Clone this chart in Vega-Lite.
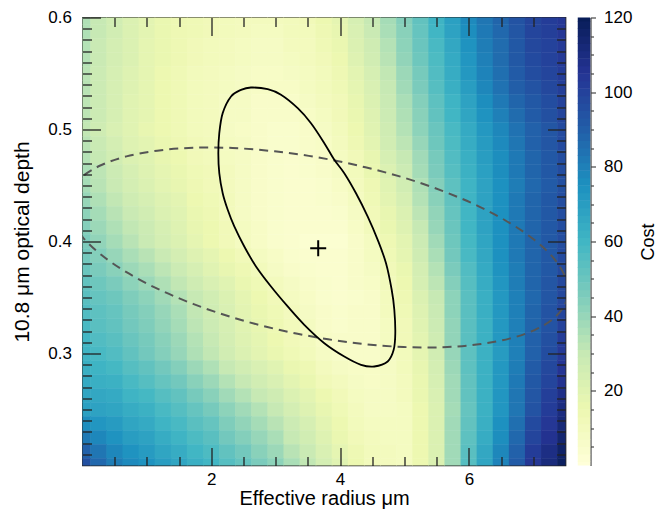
{
"$schema": "https://vega.github.io/schema/vega-lite/v6.json",
"background": "white",
"padding": {"left": 10.5, "top": 7.5, "right": 0, "bottom": 0},
"spacing": 10,
"config": {
  "font": "Liberation Sans",
  "view": {"stroke": null},
  "axis": {"labelFont": "Liberation Sans", "titleFont": "Liberation Sans", "labelColor": "#000", "titleColor": "#000", "titleFontWeight": "normal", "labelFontSize": 17, "titleFontSize": 20, "grid": false, "domain": false, "tickColor": "#222", "tickWidth": 1.3, "labelOverlap": false, "labelFlush": false, "labelBound": false}
},
"datasets": {
"grid": [
{"t":0.6,"r":0,"c":35},{"t":0.6,"r":0.25,"c":30},{"t":0.6,"r":0.5,"c":26},{"t":0.6,"r":0.75,"c":22},{"t":0.6,"r":1,"c":19},{"t":0.6,"r":1.25,"c":16},{"t":0.6,"r":1.5,"c":14},{"t":0.6,"r":1.75,"c":13},{"t":0.6,"r":2,"c":12},{"t":0.6,"r":2.25,"c":11},{"t":0.6,"r":2.5,"c":10},{"t":0.6,"r":2.75,"c":10},{"t":0.6,"r":3,"c":10},{"t":0.6,"r":3.25,"c":11},{"t":0.6,"r":3.5,"c":12},{"t":0.6,"r":3.75,"c":15},{"t":0.6,"r":4,"c":18},{"t":0.6,"r":4.25,"c":24},{"t":0.6,"r":4.5,"c":30},{"t":0.6,"r":4.75,"c":37},{"t":0.6,"r":5,"c":44},{"t":0.6,"r":5.25,"c":52},{"t":0.6,"r":5.5,"c":61},{"t":0.6,"r":5.75,"c":69},{"t":0.6,"r":6,"c":77},{"t":0.6,"r":6.25,"c":83},{"t":0.6,"r":6.5,"c":88},{"t":0.6,"r":6.75,"c":94},{"t":0.6,"r":7,"c":99},{"t":0.6,"r":7.25,"c":102},{"t":0.6,"r":7.5,"c":104},
{"t":0.5875,"r":0,"c":35},{"t":0.5875,"r":0.25,"c":30},{"t":0.5875,"r":0.5,"c":26},{"t":0.5875,"r":0.75,"c":22},{"t":0.5875,"r":1,"c":19},{"t":0.5875,"r":1.25,"c":16},{"t":0.5875,"r":1.5,"c":14},{"t":0.5875,"r":1.75,"c":13},{"t":0.5875,"r":2,"c":12},{"t":0.5875,"r":2.25,"c":11},{"t":0.5875,"r":2.5,"c":10},{"t":0.5875,"r":2.75,"c":9},{"t":0.5875,"r":3,"c":9},{"t":0.5875,"r":3.25,"c":11},{"t":0.5875,"r":3.5,"c":11},{"t":0.5875,"r":3.75,"c":14},{"t":0.5875,"r":4,"c":17},{"t":0.5875,"r":4.25,"c":23},{"t":0.5875,"r":4.5,"c":29},{"t":0.5875,"r":4.75,"c":36},{"t":0.5875,"r":5,"c":43},{"t":0.5875,"r":5.25,"c":51},{"t":0.5875,"r":5.5,"c":60},{"t":0.5875,"r":5.75,"c":68},{"t":0.5875,"r":6,"c":76},{"t":0.5875,"r":6.25,"c":82},{"t":0.5875,"r":6.5,"c":87},{"t":0.5875,"r":6.75,"c":93},{"t":0.5875,"r":7,"c":99},{"t":0.5875,"r":7.25,"c":101},{"t":0.5875,"r":7.5,"c":104},
{"t":0.575,"r":0,"c":34},{"t":0.575,"r":0.25,"c":29},{"t":0.575,"r":0.5,"c":25},{"t":0.575,"r":0.75,"c":22},{"t":0.575,"r":1,"c":18},{"t":0.575,"r":1.25,"c":16},{"t":0.575,"r":1.5,"c":14},{"t":0.575,"r":1.75,"c":12},{"t":0.575,"r":2,"c":11},{"t":0.575,"r":2.25,"c":10},{"t":0.575,"r":2.5,"c":9},{"t":0.575,"r":2.75,"c":8},{"t":0.575,"r":3,"c":8},{"t":0.575,"r":3.25,"c":10},{"t":0.575,"r":3.5,"c":10},{"t":0.575,"r":3.75,"c":13},{"t":0.575,"r":4,"c":16},{"t":0.575,"r":4.25,"c":22},{"t":0.575,"r":4.5,"c":27},{"t":0.575,"r":4.75,"c":34},{"t":0.575,"r":5,"c":42},{"t":0.575,"r":5.25,"c":50},{"t":0.575,"r":5.5,"c":58},{"t":0.575,"r":5.75,"c":66},{"t":0.575,"r":6,"c":74},{"t":0.575,"r":6.25,"c":81},{"t":0.575,"r":6.5,"c":86},{"t":0.575,"r":6.75,"c":92},{"t":0.575,"r":7,"c":98},{"t":0.575,"r":7.25,"c":100},{"t":0.575,"r":7.5,"c":103},
{"t":0.5625,"r":0,"c":34},{"t":0.5625,"r":0.25,"c":29},{"t":0.5625,"r":0.5,"c":25},{"t":0.5625,"r":0.75,"c":22},{"t":0.5625,"r":1,"c":18},{"t":0.5625,"r":1.25,"c":16},{"t":0.5625,"r":1.5,"c":14},{"t":0.5625,"r":1.75,"c":12},{"t":0.5625,"r":2,"c":11},{"t":0.5625,"r":2.25,"c":10},{"t":0.5625,"r":2.5,"c":9},{"t":0.5625,"r":2.75,"c":8},{"t":0.5625,"r":3,"c":8},{"t":0.5625,"r":3.25,"c":9},{"t":0.5625,"r":3.5,"c":10},{"t":0.5625,"r":3.75,"c":12},{"t":0.5625,"r":4,"c":15},{"t":0.5625,"r":4.25,"c":21},{"t":0.5625,"r":4.5,"c":26},{"t":0.5625,"r":4.75,"c":33},{"t":0.5625,"r":5,"c":41},{"t":0.5625,"r":5.25,"c":49},{"t":0.5625,"r":5.5,"c":57},{"t":0.5625,"r":5.75,"c":65},{"t":0.5625,"r":6,"c":73},{"t":0.5625,"r":6.25,"c":80},{"t":0.5625,"r":6.5,"c":86},{"t":0.5625,"r":6.75,"c":92},{"t":0.5625,"r":7,"c":97},{"t":0.5625,"r":7.25,"c":100},{"t":0.5625,"r":7.5,"c":103},
{"t":0.55,"r":0,"c":33},{"t":0.55,"r":0.25,"c":28},{"t":0.55,"r":0.5,"c":24},{"t":0.55,"r":0.75,"c":21},{"t":0.55,"r":1,"c":18},{"t":0.55,"r":1.25,"c":15},{"t":0.55,"r":1.5,"c":13},{"t":0.55,"r":1.75,"c":11},{"t":0.55,"r":2,"c":10},{"t":0.55,"r":2.25,"c":9},{"t":0.55,"r":2.5,"c":8},{"t":0.55,"r":2.75,"c":7},{"t":0.55,"r":3,"c":7},{"t":0.55,"r":3.25,"c":8},{"t":0.55,"r":3.5,"c":9},{"t":0.55,"r":3.75,"c":11},{"t":0.55,"r":4,"c":14},{"t":0.55,"r":4.25,"c":19},{"t":0.55,"r":4.5,"c":24},{"t":0.55,"r":4.75,"c":31},{"t":0.55,"r":5,"c":39},{"t":0.55,"r":5.25,"c":47},{"t":0.55,"r":5.5,"c":56},{"t":0.55,"r":5.75,"c":64},{"t":0.55,"r":6,"c":72},{"t":0.55,"r":6.25,"c":79},{"t":0.55,"r":6.5,"c":85},{"t":0.55,"r":6.75,"c":91},{"t":0.55,"r":7,"c":96},{"t":0.55,"r":7.25,"c":99},{"t":0.55,"r":7.5,"c":102},
{"t":0.5375,"r":0,"c":33},{"t":0.5375,"r":0.25,"c":28},{"t":0.5375,"r":0.5,"c":24},{"t":0.5375,"r":0.75,"c":21},{"t":0.5375,"r":1,"c":18},{"t":0.5375,"r":1.25,"c":15},{"t":0.5375,"r":1.5,"c":13},{"t":0.5375,"r":1.75,"c":11},{"t":0.5375,"r":2,"c":10},{"t":0.5375,"r":2.25,"c":9},{"t":0.5375,"r":2.5,"c":8},{"t":0.5375,"r":2.75,"c":7},{"t":0.5375,"r":3,"c":7},{"t":0.5375,"r":3.25,"c":7},{"t":0.5375,"r":3.5,"c":9},{"t":0.5375,"r":3.75,"c":11},{"t":0.5375,"r":4,"c":13},{"t":0.5375,"r":4.25,"c":18},{"t":0.5375,"r":4.5,"c":23},{"t":0.5375,"r":4.75,"c":30},{"t":0.5375,"r":5,"c":38},{"t":0.5375,"r":5.25,"c":46},{"t":0.5375,"r":5.5,"c":55},{"t":0.5375,"r":5.75,"c":63},{"t":0.5375,"r":6,"c":70},{"t":0.5375,"r":6.25,"c":78},{"t":0.5375,"r":6.5,"c":84},{"t":0.5375,"r":6.75,"c":90},{"t":0.5375,"r":7,"c":94},{"t":0.5375,"r":7.25,"c":98},{"t":0.5375,"r":7.5,"c":101},
{"t":0.525,"r":0,"c":32},{"t":0.525,"r":0.25,"c":28},{"t":0.525,"r":0.5,"c":24},{"t":0.525,"r":0.75,"c":20},{"t":0.525,"r":1,"c":18},{"t":0.525,"r":1.25,"c":15},{"t":0.525,"r":1.5,"c":13},{"t":0.525,"r":1.75,"c":11},{"t":0.525,"r":2,"c":10},{"t":0.525,"r":2.25,"c":8},{"t":0.525,"r":2.5,"c":8},{"t":0.525,"r":2.75,"c":6},{"t":0.525,"r":3,"c":6},{"t":0.525,"r":3.25,"c":6},{"t":0.525,"r":3.5,"c":8},{"t":0.525,"r":3.75,"c":10},{"t":0.525,"r":4,"c":12},{"t":0.525,"r":4.25,"c":17},{"t":0.525,"r":4.5,"c":22},{"t":0.525,"r":4.75,"c":29},{"t":0.525,"r":5,"c":36},{"t":0.525,"r":5.25,"c":44},{"t":0.525,"r":5.5,"c":53},{"t":0.525,"r":5.75,"c":61},{"t":0.525,"r":6,"c":68},{"t":0.525,"r":6.25,"c":76},{"t":0.525,"r":6.5,"c":82},{"t":0.525,"r":6.75,"c":88},{"t":0.525,"r":7,"c":92},{"t":0.525,"r":7.25,"c":96},{"t":0.525,"r":7.5,"c":100},
{"t":0.5125,"r":0,"c":32},{"t":0.5125,"r":0.25,"c":28},{"t":0.5125,"r":0.5,"c":24},{"t":0.5125,"r":0.75,"c":20},{"t":0.5125,"r":1,"c":18},{"t":0.5125,"r":1.25,"c":15},{"t":0.5125,"r":1.5,"c":13},{"t":0.5125,"r":1.75,"c":11},{"t":0.5125,"r":2,"c":10},{"t":0.5125,"r":2.25,"c":8},{"t":0.5125,"r":2.5,"c":8},{"t":0.5125,"r":2.75,"c":6},{"t":0.5125,"r":3,"c":6},{"t":0.5125,"r":3.25,"c":6},{"t":0.5125,"r":3.5,"c":7},{"t":0.5125,"r":3.75,"c":9},{"t":0.5125,"r":4,"c":12},{"t":0.5125,"r":4.25,"c":16},{"t":0.5125,"r":4.5,"c":21},{"t":0.5125,"r":4.75,"c":28},{"t":0.5125,"r":5,"c":35},{"t":0.5125,"r":5.25,"c":43},{"t":0.5125,"r":5.5,"c":52},{"t":0.5125,"r":5.75,"c":60},{"t":0.5125,"r":6,"c":67},{"t":0.5125,"r":6.25,"c":74},{"t":0.5125,"r":6.5,"c":80},{"t":0.5125,"r":6.75,"c":86},{"t":0.5125,"r":7,"c":91},{"t":0.5125,"r":7.25,"c":95},{"t":0.5125,"r":7.5,"c":99},
{"t":0.5,"r":0,"c":31},{"t":0.5,"r":0.25,"c":27},{"t":0.5,"r":0.5,"c":23},{"t":0.5,"r":0.75,"c":20},{"t":0.5,"r":1,"c":17},{"t":0.5,"r":1.25,"c":15},{"t":0.5,"r":1.5,"c":13},{"t":0.5,"r":1.75,"c":11},{"t":0.5,"r":2,"c":10},{"t":0.5,"r":2.25,"c":8},{"t":0.5,"r":2.5,"c":7},{"t":0.5,"r":2.75,"c":6},{"t":0.5,"r":3,"c":5},{"t":0.5,"r":3.25,"c":5},{"t":0.5,"r":3.5,"c":6},{"t":0.5,"r":3.75,"c":8},{"t":0.5,"r":4,"c":11},{"t":0.5,"r":4.25,"c":15},{"t":0.5,"r":4.5,"c":20},{"t":0.5,"r":4.75,"c":27},{"t":0.5,"r":5,"c":34},{"t":0.5,"r":5.25,"c":42},{"t":0.5,"r":5.5,"c":50},{"t":0.5,"r":5.75,"c":58},{"t":0.5,"r":6,"c":65},{"t":0.5,"r":6.25,"c":72},{"t":0.5,"r":6.5,"c":78},{"t":0.5,"r":6.75,"c":84},{"t":0.5,"r":7,"c":89},{"t":0.5,"r":7.25,"c":93},{"t":0.5,"r":7.5,"c":97},
{"t":0.4875,"r":0,"c":33},{"t":0.4875,"r":0.25,"c":29},{"t":0.4875,"r":0.5,"c":25},{"t":0.4875,"r":0.75,"c":21},{"t":0.4875,"r":1,"c":19},{"t":0.4875,"r":1.25,"c":16},{"t":0.4875,"r":1.5,"c":14},{"t":0.4875,"r":1.75,"c":12},{"t":0.4875,"r":2,"c":11},{"t":0.4875,"r":2.25,"c":9},{"t":0.4875,"r":2.5,"c":8},{"t":0.4875,"r":2.75,"c":6},{"t":0.4875,"r":3,"c":5},{"t":0.4875,"r":3.25,"c":5},{"t":0.4875,"r":3.5,"c":6},{"t":0.4875,"r":3.75,"c":7},{"t":0.4875,"r":4,"c":10},{"t":0.4875,"r":4.25,"c":14},{"t":0.4875,"r":4.5,"c":19},{"t":0.4875,"r":4.75,"c":26},{"t":0.4875,"r":5,"c":32},{"t":0.4875,"r":5.25,"c":40},{"t":0.4875,"r":5.5,"c":49},{"t":0.4875,"r":5.75,"c":57},{"t":0.4875,"r":6,"c":64},{"t":0.4875,"r":6.25,"c":71},{"t":0.4875,"r":6.5,"c":77},{"t":0.4875,"r":6.75,"c":83},{"t":0.4875,"r":7,"c":89},{"t":0.4875,"r":7.25,"c":93},{"t":0.4875,"r":7.5,"c":97},
{"t":0.475,"r":0,"c":34},{"t":0.475,"r":0.25,"c":30},{"t":0.475,"r":0.5,"c":26},{"t":0.475,"r":0.75,"c":22},{"t":0.475,"r":1,"c":20},{"t":0.475,"r":1.25,"c":17},{"t":0.475,"r":1.5,"c":15},{"t":0.475,"r":1.75,"c":12},{"t":0.475,"r":2,"c":11},{"t":0.475,"r":2.25,"c":9},{"t":0.475,"r":2.5,"c":8},{"t":0.475,"r":2.75,"c":6},{"t":0.475,"r":3,"c":5},{"t":0.475,"r":3.25,"c":4},{"t":0.475,"r":3.5,"c":5},{"t":0.475,"r":3.75,"c":6},{"t":0.475,"r":4,"c":9},{"t":0.475,"r":4.25,"c":12},{"t":0.475,"r":4.5,"c":17},{"t":0.475,"r":4.75,"c":24},{"t":0.475,"r":5,"c":30},{"t":0.475,"r":5.25,"c":38},{"t":0.475,"r":5.5,"c":47},{"t":0.475,"r":5.75,"c":56},{"t":0.475,"r":6,"c":63},{"t":0.475,"r":6.25,"c":70},{"t":0.475,"r":6.5,"c":76},{"t":0.475,"r":6.75,"c":82},{"t":0.475,"r":7,"c":88},{"t":0.475,"r":7.25,"c":92},{"t":0.475,"r":7.5,"c":96},
{"t":0.4625,"r":0,"c":36},{"t":0.4625,"r":0.25,"c":32},{"t":0.4625,"r":0.5,"c":28},{"t":0.4625,"r":0.75,"c":24},{"t":0.4625,"r":1,"c":21},{"t":0.4625,"r":1.25,"c":18},{"t":0.4625,"r":1.5,"c":16},{"t":0.4625,"r":1.75,"c":13},{"t":0.4625,"r":2,"c":12},{"t":0.4625,"r":2.25,"c":10},{"t":0.4625,"r":2.5,"c":8},{"t":0.4625,"r":2.75,"c":6},{"t":0.4625,"r":3,"c":5},{"t":0.4625,"r":3.25,"c":4},{"t":0.4625,"r":3.5,"c":5},{"t":0.4625,"r":3.75,"c":6},{"t":0.4625,"r":4,"c":8},{"t":0.4625,"r":4.25,"c":11},{"t":0.4625,"r":4.5,"c":16},{"t":0.4625,"r":4.75,"c":22},{"t":0.4625,"r":5,"c":28},{"t":0.4625,"r":5.25,"c":37},{"t":0.4625,"r":5.5,"c":46},{"t":0.4625,"r":5.75,"c":55},{"t":0.4625,"r":6,"c":62},{"t":0.4625,"r":6.25,"c":69},{"t":0.4625,"r":6.5,"c":76},{"t":0.4625,"r":6.75,"c":82},{"t":0.4625,"r":7,"c":88},{"t":0.4625,"r":7.25,"c":92},{"t":0.4625,"r":7.5,"c":96},
{"t":0.45,"r":0,"c":37},{"t":0.45,"r":0.25,"c":33},{"t":0.45,"r":0.5,"c":29},{"t":0.45,"r":0.75,"c":25},{"t":0.45,"r":1,"c":22},{"t":0.45,"r":1.25,"c":19},{"t":0.45,"r":1.5,"c":17},{"t":0.45,"r":1.75,"c":14},{"t":0.45,"r":2,"c":12},{"t":0.45,"r":2.25,"c":10},{"t":0.45,"r":2.5,"c":8},{"t":0.45,"r":2.75,"c":6},{"t":0.45,"r":3,"c":5},{"t":0.45,"r":3.25,"c":4},{"t":0.45,"r":3.5,"c":4},{"t":0.45,"r":3.75,"c":5},{"t":0.45,"r":4,"c":7},{"t":0.45,"r":4.25,"c":10},{"t":0.45,"r":4.5,"c":14},{"t":0.45,"r":4.75,"c":20},{"t":0.45,"r":5,"c":26},{"t":0.45,"r":5.25,"c":35},{"t":0.45,"r":5.5,"c":44},{"t":0.45,"r":5.75,"c":53},{"t":0.45,"r":6,"c":61},{"t":0.45,"r":6.25,"c":68},{"t":0.45,"r":6.5,"c":75},{"t":0.45,"r":6.75,"c":81},{"t":0.45,"r":7,"c":87},{"t":0.45,"r":7.25,"c":91},{"t":0.45,"r":7.5,"c":95},
{"t":0.4375,"r":0,"c":40},{"t":0.4375,"r":0.25,"c":35},{"t":0.4375,"r":0.5,"c":31},{"t":0.4375,"r":0.75,"c":27},{"t":0.4375,"r":1,"c":24},{"t":0.4375,"r":1.25,"c":21},{"t":0.4375,"r":1.5,"c":19},{"t":0.4375,"r":1.75,"c":15},{"t":0.4375,"r":2,"c":13},{"t":0.4375,"r":2.25,"c":11},{"t":0.4375,"r":2.5,"c":8},{"t":0.4375,"r":2.75,"c":6},{"t":0.4375,"r":3,"c":5},{"t":0.4375,"r":3.25,"c":4},{"t":0.4375,"r":3.5,"c":4},{"t":0.4375,"r":3.75,"c":5},{"t":0.4375,"r":4,"c":6},{"t":0.4375,"r":4.25,"c":9},{"t":0.4375,"r":4.5,"c":13},{"t":0.4375,"r":4.75,"c":19},{"t":0.4375,"r":5,"c":24},{"t":0.4375,"r":5.25,"c":34},{"t":0.4375,"r":5.5,"c":43},{"t":0.4375,"r":5.75,"c":52},{"t":0.4375,"r":6,"c":61},{"t":0.4375,"r":6.25,"c":68},{"t":0.4375,"r":6.5,"c":75},{"t":0.4375,"r":6.75,"c":82},{"t":0.4375,"r":7,"c":88},{"t":0.4375,"r":7.25,"c":92},{"t":0.4375,"r":7.5,"c":96},
{"t":0.425,"r":0,"c":42},{"t":0.425,"r":0.25,"c":37},{"t":0.425,"r":0.5,"c":33},{"t":0.425,"r":0.75,"c":29},{"t":0.425,"r":1,"c":26},{"t":0.425,"r":1.25,"c":22},{"t":0.425,"r":1.5,"c":20},{"t":0.425,"r":1.75,"c":16},{"t":0.425,"r":2,"c":14},{"t":0.425,"r":2.25,"c":11},{"t":0.425,"r":2.5,"c":8},{"t":0.425,"r":2.75,"c":6},{"t":0.425,"r":3,"c":5},{"t":0.425,"r":3.25,"c":4},{"t":0.425,"r":3.5,"c":4},{"t":0.425,"r":3.75,"c":4},{"t":0.425,"r":4,"c":5},{"t":0.425,"r":4.25,"c":8},{"t":0.425,"r":4.5,"c":12},{"t":0.425,"r":4.75,"c":17},{"t":0.425,"r":5,"c":22},{"t":0.425,"r":5.25,"c":32},{"t":0.425,"r":5.5,"c":41},{"t":0.425,"r":5.75,"c":51},{"t":0.425,"r":6,"c":60},{"t":0.425,"r":6.25,"c":68},{"t":0.425,"r":6.5,"c":75},{"t":0.425,"r":6.75,"c":82},{"t":0.425,"r":7,"c":88},{"t":0.425,"r":7.25,"c":92},{"t":0.425,"r":7.5,"c":96},
{"t":0.4125,"r":0,"c":44},{"t":0.4125,"r":0.25,"c":39},{"t":0.4125,"r":0.5,"c":35},{"t":0.4125,"r":0.75,"c":31},{"t":0.4125,"r":1,"c":28},{"t":0.4125,"r":1.25,"c":24},{"t":0.4125,"r":1.5,"c":21},{"t":0.4125,"r":1.75,"c":17},{"t":0.4125,"r":2,"c":15},{"t":0.4125,"r":2.25,"c":12},{"t":0.4125,"r":2.5,"c":9},{"t":0.4125,"r":2.75,"c":7},{"t":0.4125,"r":3,"c":5},{"t":0.4125,"r":3.25,"c":4},{"t":0.4125,"r":3.5,"c":4},{"t":0.4125,"r":3.75,"c":4},{"t":0.4125,"r":4,"c":4},{"t":0.4125,"r":4.25,"c":7},{"t":0.4125,"r":4.5,"c":11},{"t":0.4125,"r":4.75,"c":16},{"t":0.4125,"r":5,"c":21},{"t":0.4125,"r":5.25,"c":30},{"t":0.4125,"r":5.5,"c":40},{"t":0.4125,"r":5.75,"c":50},{"t":0.4125,"r":6,"c":60},{"t":0.4125,"r":6.25,"c":68},{"t":0.4125,"r":6.5,"c":75},{"t":0.4125,"r":6.75,"c":82},{"t":0.4125,"r":7,"c":88},{"t":0.4125,"r":7.25,"c":92},{"t":0.4125,"r":7.5,"c":96},
{"t":0.4,"r":0,"c":46},{"t":0.4,"r":0.25,"c":41},{"t":0.4,"r":0.5,"c":37},{"t":0.4,"r":0.75,"c":33},{"t":0.4,"r":1,"c":29},{"t":0.4,"r":1.25,"c":25},{"t":0.4,"r":1.5,"c":22},{"t":0.4,"r":1.75,"c":18},{"t":0.4,"r":2,"c":15},{"t":0.4,"r":2.25,"c":12},{"t":0.4,"r":2.5,"c":9},{"t":0.4,"r":2.75,"c":7},{"t":0.4,"r":3,"c":5},{"t":0.4,"r":3.25,"c":4},{"t":0.4,"r":3.5,"c":3},{"t":0.4,"r":3.75,"c":3},{"t":0.4,"r":4,"c":3},{"t":0.4,"r":4.25,"c":6},{"t":0.4,"r":4.5,"c":9},{"t":0.4,"r":4.75,"c":14},{"t":0.4,"r":5,"c":19},{"t":0.4,"r":5.25,"c":28},{"t":0.4,"r":5.5,"c":38},{"t":0.4,"r":5.75,"c":49},{"t":0.4,"r":6,"c":59},{"t":0.4,"r":6.25,"c":67},{"t":0.4,"r":6.5,"c":75},{"t":0.4,"r":6.75,"c":82},{"t":0.4,"r":7,"c":88},{"t":0.4,"r":7.25,"c":92},{"t":0.4,"r":7.5,"c":96},
{"t":0.3875,"r":0,"c":48},{"t":0.3875,"r":0.25,"c":44},{"t":0.3875,"r":0.5,"c":40},{"t":0.3875,"r":0.75,"c":36},{"t":0.3875,"r":1,"c":33},{"t":0.3875,"r":1.25,"c":29},{"t":0.3875,"r":1.5,"c":25},{"t":0.3875,"r":1.75,"c":21},{"t":0.3875,"r":2,"c":18},{"t":0.3875,"r":2.25,"c":15},{"t":0.3875,"r":2.5,"c":12},{"t":0.3875,"r":2.75,"c":9},{"t":0.3875,"r":3,"c":7},{"t":0.3875,"r":3.25,"c":5},{"t":0.3875,"r":3.5,"c":4},{"t":0.3875,"r":3.75,"c":4},{"t":0.3875,"r":4,"c":4},{"t":0.3875,"r":4.25,"c":6},{"t":0.3875,"r":4.5,"c":9},{"t":0.3875,"r":4.75,"c":13},{"t":0.3875,"r":5,"c":18},{"t":0.3875,"r":5.25,"c":27},{"t":0.3875,"r":5.5,"c":36},{"t":0.3875,"r":5.75,"c":48},{"t":0.3875,"r":6,"c":58},{"t":0.3875,"r":6.25,"c":66},{"t":0.3875,"r":6.5,"c":75},{"t":0.3875,"r":6.75,"c":82},{"t":0.3875,"r":7,"c":88},{"t":0.3875,"r":7.25,"c":92},{"t":0.3875,"r":7.5,"c":97},
{"t":0.375,"r":0,"c":50},{"t":0.375,"r":0.25,"c":46},{"t":0.375,"r":0.5,"c":43},{"t":0.375,"r":0.75,"c":39},{"t":0.375,"r":1,"c":36},{"t":0.375,"r":1.25,"c":32},{"t":0.375,"r":1.5,"c":28},{"t":0.375,"r":1.75,"c":24},{"t":0.375,"r":2,"c":20},{"t":0.375,"r":2.25,"c":17},{"t":0.375,"r":2.5,"c":14},{"t":0.375,"r":2.75,"c":11},{"t":0.375,"r":3,"c":8},{"t":0.375,"r":3.25,"c":6},{"t":0.375,"r":3.5,"c":5},{"t":0.375,"r":3.75,"c":4},{"t":0.375,"r":4,"c":4},{"t":0.375,"r":4.25,"c":6},{"t":0.375,"r":4.5,"c":8},{"t":0.375,"r":4.75,"c":12},{"t":0.375,"r":5,"c":16},{"t":0.375,"r":5.25,"c":25},{"t":0.375,"r":5.5,"c":34},{"t":0.375,"r":5.75,"c":46},{"t":0.375,"r":6,"c":56},{"t":0.375,"r":6.25,"c":65},{"t":0.375,"r":6.5,"c":74},{"t":0.375,"r":6.75,"c":81},{"t":0.375,"r":7,"c":88},{"t":0.375,"r":7.25,"c":92},{"t":0.375,"r":7.5,"c":97},
{"t":0.3625,"r":0,"c":52},{"t":0.3625,"r":0.25,"c":49},{"t":0.3625,"r":0.5,"c":46},{"t":0.3625,"r":0.75,"c":42},{"t":0.3625,"r":1,"c":39},{"t":0.3625,"r":1.25,"c":35},{"t":0.3625,"r":1.5,"c":31},{"t":0.3625,"r":1.75,"c":27},{"t":0.3625,"r":2,"c":23},{"t":0.3625,"r":2.25,"c":20},{"t":0.3625,"r":2.5,"c":16},{"t":0.3625,"r":2.75,"c":13},{"t":0.3625,"r":3,"c":10},{"t":0.3625,"r":3.25,"c":8},{"t":0.3625,"r":3.5,"c":6},{"t":0.3625,"r":3.75,"c":5},{"t":0.3625,"r":4,"c":4},{"t":0.3625,"r":4.25,"c":6},{"t":0.3625,"r":4.5,"c":7},{"t":0.3625,"r":4.75,"c":11},{"t":0.3625,"r":5,"c":15},{"t":0.3625,"r":5.25,"c":24},{"t":0.3625,"r":5.5,"c":32},{"t":0.3625,"r":5.75,"c":44},{"t":0.3625,"r":6,"c":55},{"t":0.3625,"r":6.25,"c":64},{"t":0.3625,"r":6.5,"c":73},{"t":0.3625,"r":6.75,"c":81},{"t":0.3625,"r":7,"c":88},{"t":0.3625,"r":7.25,"c":93},{"t":0.3625,"r":7.5,"c":98},
{"t":0.35,"r":0,"c":54},{"t":0.35,"r":0.25,"c":51},{"t":0.35,"r":0.5,"c":49},{"t":0.35,"r":0.75,"c":45},{"t":0.35,"r":1,"c":42},{"t":0.35,"r":1.25,"c":38},{"t":0.35,"r":1.5,"c":34},{"t":0.35,"r":1.75,"c":30},{"t":0.35,"r":2,"c":26},{"t":0.35,"r":2.25,"c":22},{"t":0.35,"r":2.5,"c":18},{"t":0.35,"r":2.75,"c":15},{"t":0.35,"r":3,"c":12},{"t":0.35,"r":3.25,"c":9},{"t":0.35,"r":3.5,"c":7},{"t":0.35,"r":3.75,"c":5},{"t":0.35,"r":4,"c":4},{"t":0.35,"r":4.25,"c":5},{"t":0.35,"r":4.5,"c":6},{"t":0.35,"r":4.75,"c":10},{"t":0.35,"r":5,"c":14},{"t":0.35,"r":5.25,"c":22},{"t":0.35,"r":5.5,"c":30},{"t":0.35,"r":5.75,"c":42},{"t":0.35,"r":6,"c":54},{"t":0.35,"r":6.25,"c":63},{"t":0.35,"r":6.5,"c":72},{"t":0.35,"r":6.75,"c":80},{"t":0.35,"r":7,"c":87},{"t":0.35,"r":7.25,"c":93},{"t":0.35,"r":7.5,"c":98},
{"t":0.3375,"r":0,"c":56},{"t":0.3375,"r":0.25,"c":53},{"t":0.3375,"r":0.5,"c":51},{"t":0.3375,"r":0.75,"c":47},{"t":0.3375,"r":1,"c":44},{"t":0.3375,"r":1.25,"c":40},{"t":0.3375,"r":1.5,"c":36},{"t":0.3375,"r":1.75,"c":31},{"t":0.3375,"r":2,"c":27},{"t":0.3375,"r":2.25,"c":23},{"t":0.3375,"r":2.5,"c":19},{"t":0.3375,"r":2.75,"c":16},{"t":0.3375,"r":3,"c":13},{"t":0.3375,"r":3.25,"c":10},{"t":0.3375,"r":3.5,"c":8},{"t":0.3375,"r":3.75,"c":6},{"t":0.3375,"r":4,"c":5},{"t":0.3375,"r":4.25,"c":6},{"t":0.3375,"r":4.5,"c":6},{"t":0.3375,"r":4.75,"c":10},{"t":0.3375,"r":5,"c":13},{"t":0.3375,"r":5.25,"c":21},{"t":0.3375,"r":5.5,"c":29},{"t":0.3375,"r":5.75,"c":42},{"t":0.3375,"r":6,"c":54},{"t":0.3375,"r":6.25,"c":63},{"t":0.3375,"r":6.5,"c":72},{"t":0.3375,"r":6.75,"c":80},{"t":0.3375,"r":7,"c":88},{"t":0.3375,"r":7.25,"c":94},{"t":0.3375,"r":7.5,"c":99},
{"t":0.325,"r":0,"c":58},{"t":0.325,"r":0.25,"c":54},{"t":0.325,"r":0.5,"c":52},{"t":0.325,"r":0.75,"c":48},{"t":0.325,"r":1,"c":45},{"t":0.325,"r":1.25,"c":41},{"t":0.325,"r":1.5,"c":37},{"t":0.325,"r":1.75,"c":32},{"t":0.325,"r":2,"c":28},{"t":0.325,"r":2.25,"c":24},{"t":0.325,"r":2.5,"c":20},{"t":0.325,"r":2.75,"c":17},{"t":0.325,"r":3,"c":14},{"t":0.325,"r":3.25,"c":11},{"t":0.325,"r":3.5,"c":9},{"t":0.325,"r":3.75,"c":6},{"t":0.325,"r":4,"c":5},{"t":0.325,"r":4.25,"c":6},{"t":0.325,"r":4.5,"c":6},{"t":0.325,"r":4.75,"c":9},{"t":0.325,"r":5,"c":12},{"t":0.325,"r":5.25,"c":20},{"t":0.325,"r":5.5,"c":28},{"t":0.325,"r":5.75,"c":41},{"t":0.325,"r":6,"c":54},{"t":0.325,"r":6.25,"c":62},{"t":0.325,"r":6.5,"c":72},{"t":0.325,"r":6.75,"c":80},{"t":0.325,"r":7,"c":88},{"t":0.325,"r":7.25,"c":94},{"t":0.325,"r":7.5,"c":100},
{"t":0.3125,"r":0,"c":60},{"t":0.3125,"r":0.25,"c":56},{"t":0.3125,"r":0.5,"c":54},{"t":0.3125,"r":0.75,"c":50},{"t":0.3125,"r":1,"c":47},{"t":0.3125,"r":1.25,"c":43},{"t":0.3125,"r":1.5,"c":39},{"t":0.3125,"r":1.75,"c":34},{"t":0.3125,"r":2,"c":30},{"t":0.3125,"r":2.25,"c":25},{"t":0.3125,"r":2.5,"c":21},{"t":0.3125,"r":2.75,"c":18},{"t":0.3125,"r":3,"c":15},{"t":0.3125,"r":3.25,"c":12},{"t":0.3125,"r":3.5,"c":10},{"t":0.3125,"r":3.75,"c":7},{"t":0.3125,"r":4,"c":6},{"t":0.3125,"r":4.25,"c":6},{"t":0.3125,"r":4.5,"c":6},{"t":0.3125,"r":4.75,"c":9},{"t":0.3125,"r":5,"c":12},{"t":0.3125,"r":5.25,"c":19},{"t":0.3125,"r":5.5,"c":27},{"t":0.3125,"r":5.75,"c":41},{"t":0.3125,"r":6,"c":54},{"t":0.3125,"r":6.25,"c":62},{"t":0.3125,"r":6.5,"c":72},{"t":0.3125,"r":6.75,"c":80},{"t":0.3125,"r":7,"c":89},{"t":0.3125,"r":7.25,"c":95},{"t":0.3125,"r":7.5,"c":102},
{"t":0.3,"r":0,"c":61},{"t":0.3,"r":0.25,"c":58},{"t":0.3,"r":0.5,"c":56},{"t":0.3,"r":0.75,"c":52},{"t":0.3,"r":1,"c":48},{"t":0.3,"r":1.25,"c":44},{"t":0.3,"r":1.5,"c":40},{"t":0.3,"r":1.75,"c":35},{"t":0.3,"r":2,"c":31},{"t":0.3,"r":2.25,"c":26},{"t":0.3,"r":2.5,"c":22},{"t":0.3,"r":2.75,"c":19},{"t":0.3,"r":3,"c":16},{"t":0.3,"r":3.25,"c":13},{"t":0.3,"r":3.5,"c":11},{"t":0.3,"r":3.75,"c":8},{"t":0.3,"r":4,"c":6},{"t":0.3,"r":4.25,"c":6},{"t":0.3,"r":4.5,"c":6},{"t":0.3,"r":4.75,"c":8},{"t":0.3,"r":5,"c":11},{"t":0.3,"r":5.25,"c":18},{"t":0.3,"r":5.5,"c":26},{"t":0.3,"r":5.75,"c":40},{"t":0.3,"r":6,"c":53},{"t":0.3,"r":6.25,"c":62},{"t":0.3,"r":6.5,"c":71},{"t":0.3,"r":6.75,"c":80},{"t":0.3,"r":7,"c":89},{"t":0.3,"r":7.25,"c":96},{"t":0.3,"r":7.5,"c":103},
{"t":0.2875,"r":0,"c":63},{"t":0.2875,"r":0.25,"c":61},{"t":0.2875,"r":0.5,"c":59},{"t":0.2875,"r":0.75,"c":55},{"t":0.2875,"r":1,"c":52},{"t":0.2875,"r":1.25,"c":48},{"t":0.2875,"r":1.5,"c":44},{"t":0.2875,"r":1.75,"c":39},{"t":0.2875,"r":2,"c":35},{"t":0.2875,"r":2.25,"c":30},{"t":0.2875,"r":2.5,"c":26},{"t":0.2875,"r":2.75,"c":23},{"t":0.2875,"r":3,"c":20},{"t":0.2875,"r":3.25,"c":16},{"t":0.2875,"r":3.5,"c":14},{"t":0.2875,"r":3.75,"c":10},{"t":0.2875,"r":4,"c":8},{"t":0.2875,"r":4.25,"c":7},{"t":0.2875,"r":4.5,"c":7},{"t":0.2875,"r":4.75,"c":8},{"t":0.2875,"r":5,"c":11},{"t":0.2875,"r":5.25,"c":17},{"t":0.2875,"r":5.5,"c":25},{"t":0.2875,"r":5.75,"c":39},{"t":0.2875,"r":6,"c":53},{"t":0.2875,"r":6.25,"c":62},{"t":0.2875,"r":6.5,"c":72},{"t":0.2875,"r":6.75,"c":81},{"t":0.2875,"r":7,"c":91},{"t":0.2875,"r":7.25,"c":98},{"t":0.2875,"r":7.5,"c":105},
{"t":0.275,"r":0,"c":65},{"t":0.275,"r":0.25,"c":63},{"t":0.275,"r":0.5,"c":62},{"t":0.275,"r":0.75,"c":58},{"t":0.275,"r":1,"c":55},{"t":0.275,"r":1.25,"c":51},{"t":0.275,"r":1.5,"c":48},{"t":0.275,"r":1.75,"c":43},{"t":0.275,"r":2,"c":39},{"t":0.275,"r":2.25,"c":34},{"t":0.275,"r":2.5,"c":30},{"t":0.275,"r":2.75,"c":26},{"t":0.275,"r":3,"c":23},{"t":0.275,"r":3.25,"c":19},{"t":0.275,"r":3.5,"c":16},{"t":0.275,"r":3.75,"c":12},{"t":0.275,"r":4,"c":10},{"t":0.275,"r":4.25,"c":8},{"t":0.275,"r":4.5,"c":7},{"t":0.275,"r":4.75,"c":8},{"t":0.275,"r":5,"c":10},{"t":0.275,"r":5.25,"c":16},{"t":0.275,"r":5.5,"c":24},{"t":0.275,"r":5.75,"c":38},{"t":0.275,"r":6,"c":52},{"t":0.275,"r":6.25,"c":62},{"t":0.275,"r":6.5,"c":72},{"t":0.275,"r":6.75,"c":82},{"t":0.275,"r":7,"c":92},{"t":0.275,"r":7.25,"c":99},{"t":0.275,"r":7.5,"c":106},
{"t":0.2625,"r":0,"c":67},{"t":0.2625,"r":0.25,"c":66},{"t":0.2625,"r":0.5,"c":65},{"t":0.2625,"r":0.75,"c":61},{"t":0.2625,"r":1,"c":59},{"t":0.2625,"r":1.25,"c":55},{"t":0.2625,"r":1.5,"c":52},{"t":0.2625,"r":1.75,"c":47},{"t":0.2625,"r":2,"c":43},{"t":0.2625,"r":2.25,"c":38},{"t":0.2625,"r":2.5,"c":34},{"t":0.2625,"r":2.75,"c":30},{"t":0.2625,"r":3,"c":27},{"t":0.2625,"r":3.25,"c":22},{"t":0.2625,"r":3.5,"c":19},{"t":0.2625,"r":3.75,"c":15},{"t":0.2625,"r":4,"c":12},{"t":0.2625,"r":4.25,"c":9},{"t":0.2625,"r":4.5,"c":8},{"t":0.2625,"r":4.75,"c":8},{"t":0.2625,"r":5,"c":10},{"t":0.2625,"r":5.25,"c":16},{"t":0.2625,"r":5.5,"c":23},{"t":0.2625,"r":5.75,"c":38},{"t":0.2625,"r":6,"c":52},{"t":0.2625,"r":6.25,"c":62},{"t":0.2625,"r":6.5,"c":73},{"t":0.2625,"r":6.75,"c":83},{"t":0.2625,"r":7,"c":93},{"t":0.2625,"r":7.25,"c":101},{"t":0.2625,"r":7.5,"c":108},
{"t":0.25,"r":0,"c":69},{"t":0.25,"r":0.25,"c":68},{"t":0.25,"r":0.5,"c":67},{"t":0.25,"r":0.75,"c":64},{"t":0.25,"r":1,"c":62},{"t":0.25,"r":1.25,"c":58},{"t":0.25,"r":1.5,"c":55},{"t":0.25,"r":1.75,"c":51},{"t":0.25,"r":2,"c":47},{"t":0.25,"r":2.25,"c":42},{"t":0.25,"r":2.5,"c":38},{"t":0.25,"r":2.75,"c":34},{"t":0.25,"r":3,"c":30},{"t":0.25,"r":3.25,"c":25},{"t":0.25,"r":3.5,"c":21},{"t":0.25,"r":3.75,"c":17},{"t":0.25,"r":4,"c":13},{"t":0.25,"r":4.25,"c":10},{"t":0.25,"r":4.5,"c":8},{"t":0.25,"r":4.75,"c":8},{"t":0.25,"r":5,"c":9},{"t":0.25,"r":5.25,"c":15},{"t":0.25,"r":5.5,"c":22},{"t":0.25,"r":5.75,"c":37},{"t":0.25,"r":6,"c":51},{"t":0.25,"r":6.25,"c":62},{"t":0.25,"r":6.5,"c":73},{"t":0.25,"r":6.75,"c":83},{"t":0.25,"r":7,"c":94},{"t":0.25,"r":7.25,"c":102},{"t":0.25,"r":7.5,"c":110},
{"t":0.2375,"r":0,"c":76},{"t":0.2375,"r":0.25,"c":73},{"t":0.2375,"r":0.5,"c":71},{"t":0.2375,"r":0.75,"c":67},{"t":0.2375,"r":1,"c":65},{"t":0.2375,"r":1.25,"c":61},{"t":0.2375,"r":1.5,"c":58},{"t":0.2375,"r":1.75,"c":54},{"t":0.2375,"r":2,"c":51},{"t":0.2375,"r":2.25,"c":45},{"t":0.2375,"r":2.5,"c":41},{"t":0.2375,"r":2.75,"c":37},{"t":0.2375,"r":3,"c":33},{"t":0.2375,"r":3.25,"c":28},{"t":0.2375,"r":3.5,"c":24},{"t":0.2375,"r":3.75,"c":19},{"t":0.2375,"r":4,"c":15},{"t":0.2375,"r":4.25,"c":11},{"t":0.2375,"r":4.5,"c":9},{"t":0.2375,"r":4.75,"c":9},{"t":0.2375,"r":5,"c":9},{"t":0.2375,"r":5.25,"c":15},{"t":0.2375,"r":5.5,"c":22},{"t":0.2375,"r":5.75,"c":38},{"t":0.2375,"r":6,"c":52},{"t":0.2375,"r":6.25,"c":63},{"t":0.2375,"r":6.5,"c":75},{"t":0.2375,"r":6.75,"c":85},{"t":0.2375,"r":7,"c":97},{"t":0.2375,"r":7.25,"c":104},{"t":0.2375,"r":7.5,"c":112},
{"t":0.225,"r":0,"c":82},{"t":0.225,"r":0.25,"c":78},{"t":0.225,"r":0.5,"c":74},{"t":0.225,"r":0.75,"c":70},{"t":0.225,"r":1,"c":68},{"t":0.225,"r":1.25,"c":64},{"t":0.225,"r":1.5,"c":61},{"t":0.225,"r":1.75,"c":57},{"t":0.225,"r":2,"c":54},{"t":0.225,"r":2.25,"c":48},{"t":0.225,"r":2.5,"c":44},{"t":0.225,"r":2.75,"c":40},{"t":0.225,"r":3,"c":36},{"t":0.225,"r":3.25,"c":30},{"t":0.225,"r":3.5,"c":26},{"t":0.225,"r":3.75,"c":21},{"t":0.225,"r":4,"c":16},{"t":0.225,"r":4.25,"c":12},{"t":0.225,"r":4.5,"c":10},{"t":0.225,"r":4.75,"c":9},{"t":0.225,"r":5,"c":9},{"t":0.225,"r":5.25,"c":15},{"t":0.225,"r":5.5,"c":22},{"t":0.225,"r":5.75,"c":38},{"t":0.225,"r":6,"c":53},{"t":0.225,"r":6.25,"c":64},{"t":0.225,"r":6.5,"c":76},{"t":0.225,"r":6.75,"c":87},{"t":0.225,"r":7,"c":99},{"t":0.225,"r":7.25,"c":106},{"t":0.225,"r":7.5,"c":114},
{"t":0.2125,"r":0,"c":89},{"t":0.2125,"r":0.25,"c":83},{"t":0.2125,"r":0.5,"c":78},{"t":0.2125,"r":0.75,"c":74},{"t":0.2125,"r":1,"c":71},{"t":0.2125,"r":1.25,"c":67},{"t":0.2125,"r":1.5,"c":64},{"t":0.2125,"r":1.75,"c":60},{"t":0.2125,"r":2,"c":57},{"t":0.2125,"r":2.25,"c":52},{"t":0.2125,"r":2.5,"c":48},{"t":0.2125,"r":2.75,"c":43},{"t":0.2125,"r":3,"c":39},{"t":0.2125,"r":3.25,"c":33},{"t":0.2125,"r":3.5,"c":29},{"t":0.2125,"r":3.75,"c":23},{"t":0.2125,"r":4,"c":18},{"t":0.2125,"r":4.25,"c":14},{"t":0.2125,"r":4.5,"c":11},{"t":0.2125,"r":4.75,"c":10},{"t":0.2125,"r":5,"c":9},{"t":0.2125,"r":5.25,"c":15},{"t":0.2125,"r":5.5,"c":22},{"t":0.2125,"r":5.75,"c":38},{"t":0.2125,"r":6,"c":54},{"t":0.2125,"r":6.25,"c":66},{"t":0.2125,"r":6.5,"c":78},{"t":0.2125,"r":6.75,"c":89},{"t":0.2125,"r":7,"c":102},{"t":0.2125,"r":7.25,"c":109},{"t":0.2125,"r":7.5,"c":116},
{"t":0.2,"r":0,"c":95},{"t":0.2,"r":0.25,"c":87},{"t":0.2,"r":0.5,"c":81},{"t":0.2,"r":0.75,"c":77},{"t":0.2,"r":1,"c":74},{"t":0.2,"r":1.25,"c":70},{"t":0.2,"r":1.5,"c":67},{"t":0.2,"r":1.75,"c":63},{"t":0.2,"r":2,"c":60},{"t":0.2,"r":2.25,"c":55},{"t":0.2,"r":2.5,"c":51},{"t":0.2,"r":2.75,"c":46},{"t":0.2,"r":3,"c":42},{"t":0.2,"r":3.25,"c":36},{"t":0.2,"r":3.5,"c":31},{"t":0.2,"r":3.75,"c":25},{"t":0.2,"r":4,"c":20},{"t":0.2,"r":4.25,"c":15},{"t":0.2,"r":4.5,"c":11},{"t":0.2,"r":4.75,"c":10},{"t":0.2,"r":5,"c":9},{"t":0.2,"r":5.25,"c":15},{"t":0.2,"r":5.5,"c":22},{"t":0.2,"r":5.75,"c":38},{"t":0.2,"r":6,"c":55},{"t":0.2,"r":6.25,"c":67},{"t":0.2,"r":6.5,"c":79},{"t":0.2,"r":6.75,"c":91},{"t":0.2,"r":7,"c":104},{"t":0.2,"r":7.25,"c":111},{"t":0.2,"r":7.5,"c":118}
],
"dashed": [
{"r":7.539,"t":0.356},{"r":7.48,"t":0.3705},{"r":7.306,"t":0.3858},{"r":7.019,"t":0.4013},{"r":6.63,"t":0.4167},{"r":6.152,"t":0.4314},{"r":5.598,"t":0.445},{"r":4.984,"t":0.4571},{"r":4.331,"t":0.4671},{"r":3.657,"t":0.4751},{"r":2.983,"t":0.4805},{"r":2.329,"t":0.4835},{"r":1.716,"t":0.4837},{"r":1.161,"t":0.4811},{"r":0.683,"t":0.476},{"r":0.295,"t":0.4683},{"r":0.008,"t":0.4585},{"r":-0.166,"t":0.4466},{"r":-0.225,"t":0.4333},{"r":-0.166,"t":0.4187},{"r":0.008,"t":0.4035},{"r":0.295,"t":0.3879},{"r":0.683,"t":0.3726},{"r":1.161,"t":0.3579},{"r":1.716,"t":0.3443},{"r":2.329,"t":0.3322},{"r":2.983,"t":0.3221},{"r":3.657,"t":0.3142},{"r":4.331,"t":0.3087},{"r":4.984,"t":0.3058},{"r":5.598,"t":0.3056},{"r":6.152,"t":0.3082},{"r":6.63,"t":0.3133},{"r":7.019,"t":0.3209},{"r":7.306,"t":0.3308},{"r":7.48,"t":0.3427}
],
"solid": [
{"r":2.616,"t":0.5375},{"r":2.876,"t":0.536},{"r":3.082,"t":0.531},{"r":3.342,"t":0.519},{"r":3.548,"t":0.5056},{"r":3.755,"t":0.4878},{"r":3.91,"t":0.4729},{"r":4.065,"t":0.461},{"r":4.247,"t":0.4431},{"r":4.429,"t":0.4223},{"r":4.584,"t":0.4015},{"r":4.713,"t":0.3806},{"r":4.801,"t":0.3569},{"r":4.842,"t":0.339},{"r":4.857,"t":0.3181},{"r":4.832,"t":0.3033},{"r":4.739,"t":0.2929},{"r":4.531,"t":0.2884},{"r":4.325,"t":0.2899},{"r":4.065,"t":0.2973},{"r":3.755,"t":0.3092},{"r":3.444,"t":0.3256},{"r":3.186,"t":0.342},{"r":2.927,"t":0.3598},{"r":2.694,"t":0.3777},{"r":2.512,"t":0.3955},{"r":2.357,"t":0.4134},{"r":2.255,"t":0.4283},{"r":2.177,"t":0.4431},{"r":2.124,"t":0.461},{"r":2.109,"t":0.4788},{"r":2.124,"t":0.4967},{"r":2.177,"t":0.5146},{"r":2.306,"t":0.5295},{"r":2.461,"t":0.5354}
],
"best": [{"r":3.66,"t":0.394}],
"bar": [
{"v":0},{"v":2},{"v":4},{"v":6},{"v":8},{"v":10},{"v":12},{"v":14},{"v":16},{"v":18},{"v":20},{"v":22},{"v":24},{"v":26},{"v":28},{"v":30},{"v":32},{"v":34},{"v":36},{"v":38},{"v":40},{"v":42},{"v":44},{"v":46},{"v":48},{"v":50},{"v":52},{"v":54},{"v":56},{"v":58},{"v":60},{"v":62},{"v":64},{"v":66},{"v":68},{"v":70},{"v":72},{"v":74},{"v":76},{"v":78},{"v":80},{"v":82},{"v":84},{"v":86},{"v":88},{"v":90},{"v":92},{"v":94},{"v":96},{"v":98},{"v":100},{"v":102},{"v":104},{"v":106},{"v":108},{"v":110},{"v":112},{"v":114},{"v":116},{"v":118},{"v":120}
]
},
"hconcat": [
{
  "width": 483, "height": 448,
  "view": {"stroke": "#222", "strokeWidth": 1.3},
  "resolve": {"axis": {"x": "independent", "y": "independent"}},
  "layer": [
    {
      "data": {"name": "grid"},
      "mark": {"type": "rect", "width": 16.7, "height": 14.6, "clip": true},
      "encoding": {
        "x": {"field": "r", "type": "quantitative", "scale": {"domain": [0, 7.5], "nice": false, "zero": false},
              "axis": {"orient": "bottom", "zindex": 1, "title": "Effective radius μm", "values": [0.5,1,1.5,2,2.5,3,3.5,4,4.5,5,5.5,6,6.5,7],
                       "tickSize": {"condition": {"test": "datum.value % 2 == 0", "value": -18}, "value": -9},
                       "labelExpr": "datum.value % 2 == 0 ? format(datum.value, 'd') : ''", "labelPadding": 23.5,
                       "titleY": 39, "titleBaseline": "alphabetic"}},
        "y": {"field": "t", "type": "quantitative", "scale": {"domain": [0.2, 0.6], "nice": false, "zero": false},
              "axis": {"orient": "left", "zindex": 1, "title": "10.8 μm optical depth", "titleFontSize": 21, "values": [0.21,0.22,0.23,0.24,0.25,0.26,0.27,0.28,0.29,0.3,0.31,0.32,0.33,0.34,0.35,0.36,0.37,0.38,0.39,0.4,0.41,0.42,0.43,0.44,0.45,0.46,0.47,0.48,0.49,0.5,0.51,0.52,0.53,0.54,0.55,0.56,0.57,0.58,0.59,0.6],
                       "tickSize": {"condition": {"test": "abs(datum.value*10 - round(datum.value*10)) < 0.001", "value": -18}, "value": -9},
                       "labelExpr": "abs(datum.value*10 - round(datum.value*10)) < 0.001 ? format(datum.value, '.1f') : ''", "labelPadding": 29,
                       "titleAngle": 270, "titleX": -54, "titleBaseline": "alphabetic"}},
        "color": {"field": "c", "type": "quantitative", "scale": {"domain": [0, 120], "range": ["#ffffd9","#edf8b1","#c7e9b4","#7fcdbb","#41b6c4","#1d91c0","#225ea8","#253494","#081d58"], "interpolate": "rgb"}, "legend": null}
      }
    },
    {
      "data": {"name": "dashed"},
      "mark": {"type": "line", "interpolate": "cardinal-closed", "clip": true, "color": "#555555", "strokeWidth": 2, "strokeDash": [9, 6]},
      "encoding": {
        "x": {"field": "r", "type": "quantitative", "scale": {"domain": [0, 7.5], "nice": false, "zero": false},
              "axis": {"orient": "top", "zindex": 1, "title": null, "labels": false, "values": [0.5,1,1.5,2,2.5,3,3.5,4,4.5,5,5.5,6,6.5,7],
                       "tickSize": {"condition": {"test": "datum.value % 2 == 0", "value": -18}, "value": -9}}},
        "y": {"field": "t", "type": "quantitative", "scale": {"domain": [0.2, 0.6], "nice": false, "zero": false},
              "axis": {"orient": "right", "zindex": 1, "title": null, "labels": false, "values": [0.21,0.22,0.23,0.24,0.25,0.26,0.27,0.28,0.29,0.3,0.31,0.32,0.33,0.34,0.35,0.36,0.37,0.38,0.39,0.4,0.41,0.42,0.43,0.44,0.45,0.46,0.47,0.48,0.49,0.5,0.51,0.52,0.53,0.54,0.55,0.56,0.57,0.58,0.59],
                       "tickSize": {"condition": {"test": "abs(datum.value*10 - round(datum.value*10)) < 0.001", "value": -18}, "value": -9}}},
        "order": {"value": null}
      }
    },
    {
      "data": {"name": "solid"},
      "mark": {"type": "line", "interpolate": "cardinal-closed", "clip": true, "color": "#000000", "strokeWidth": 1.8},
      "encoding": {
        "x": {"field": "r", "type": "quantitative", "scale": {"domain": [0, 7.5], "nice": false, "zero": false}, "axis": null},
        "y": {"field": "t", "type": "quantitative", "scale": {"domain": [0.2, 0.6], "nice": false, "zero": false}, "axis": null},
        "order": {"value": null}
      }
    },
    {
      "data": {"name": "best"},
      "mark": {"type": "point", "shape": "M-1,0L1,0M0,-1L0,1", "size": 256, "filled": false, "stroke": "#000000", "strokeWidth": 2, "opacity": 1},
      "encoding": {
        "x": {"field": "r", "type": "quantitative", "scale": {"domain": [0, 7.5], "nice": false, "zero": false}, "axis": null},
        "y": {"field": "t", "type": "quantitative", "scale": {"domain": [0.2, 0.6], "nice": false, "zero": false}, "axis": null}
      }
    }
  ]
},
{
  "width": 13, "height": 448,
  "data": {"name": "bar"},
  "mark": {"type": "rect", "height": 8, "clip": true},
  "encoding": {
    "y": {"field": "v", "type": "quantitative", "scale": {"domain": [0, 120], "nice": false, "zero": false},
          "axis": {"orient": "right", "title": "Cost", "titleFontSize": 18, "titleAngle": 270, "titleX": 63, "titleBaseline": "alphabetic", "values": [5,10,15,20,25,30,35,40,45,50,55,60,65,70,75,80,85,90,95,100,105,110,115,120],
                   "tickSize": {"condition": {"test": "datum.value % 20 == 0", "value": 5}, "value": 3},
                   "labelExpr": "datum.value % 20 == 0 ? format(datum.value, 'd') : ''", "labelPadding": 8,
                   "domain": true, "domainColor": "#444", "domainWidth": 1.2, "tickColor": "#555"}},
    "color": {"field": "v", "type": "quantitative", "scale": {"domain": [0, 120], "range": ["#ffffd9","#edf8b1","#c7e9b4","#7fcdbb","#41b6c4","#1d91c0","#225ea8","#253494","#081d58"], "interpolate": "rgb"}, "legend": null}
  }
}
]
}
